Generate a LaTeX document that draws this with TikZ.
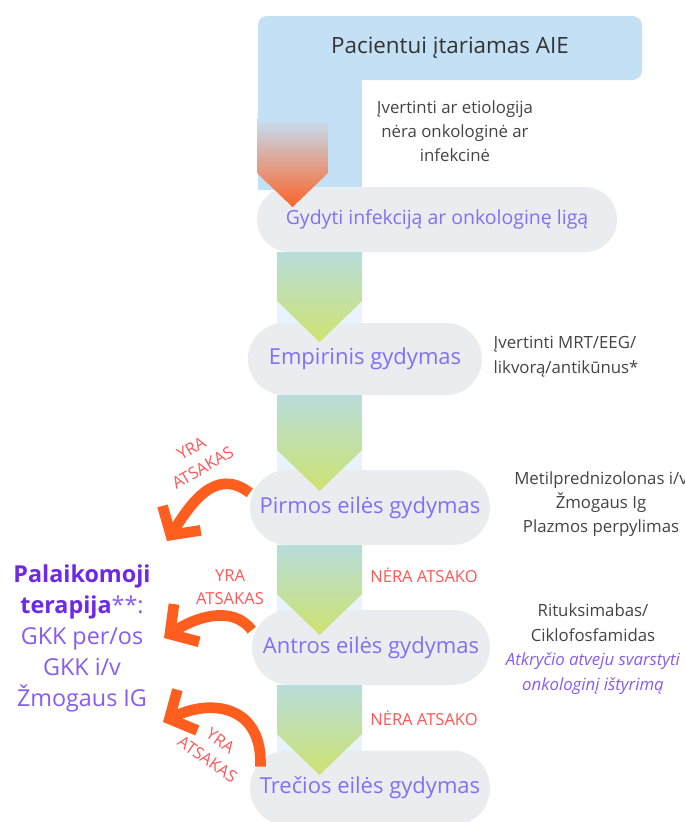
\documentclass[tikz,border=0pt]{standalone}
\usepackage{fontspec}
\setmainfont{Open Sans}
\usetikzlibrary{shapes.misc,arrows.meta}

\definecolor{titleblue}{RGB}{196,224,245}
\definecolor{stripblue}{RGB}{232,243,251}
\definecolor{pillgray}{RGB}{233,237,240}
\definecolor{pilltext}{RGB}{128,112,246}
\definecolor{notegray}{RGB}{68,68,68}
\definecolor{darkgray}{RGB}{51,51,51}
\definecolor{nerared}{RGB}{255,87,87}
\definecolor{yraorange}{RGB}{255,94,31}
\definecolor{arroworange}{RGB}{252,98,38}
\definecolor{greentop}{RGB}{184,221,218}
\definecolor{greenbot}{RGB}{206,227,112}
\definecolor{keepbold}{RGB}{110,40,232}
\definecolor{keeptext}{RGB}{135,92,245}

\begin{document}
\begin{tikzpicture}[
    x=0.75pt, y=-0.75pt,
    titlebox/.style={fill=titleblue, rounded corners=7pt, text=darkgray,
                     minimum width=288pt, minimum height=48pt,
                     font=\fontsize{16.8}{20}\selectfont},
    pill/.style={rounded rectangle, fill=pillgray, text=pilltext, inner sep=0pt,
                 font=\fontsize{16.5}{20}\selectfont},
    note/.style={text=notegray, align=center,
                 font=\fontsize{12.6}{18.2}\selectfont},
    nera/.style={text=nerared, font=\fontsize{12.4}{15}\selectfont},
    yralbl/.style={text=nerared, align=center,
                   font=\fontsize{12.4}{17}\selectfont},
    yra/.style={yraorange, line width=8pt,
                -{Straight Barb[length=15pt, width=34pt]}}
]

% ---------- page ----------
\fill[white] (0,0) rectangle (685,822);
\clip (0,0) rectangle (685,822);

% ---------- top ----------
\fill[titleblue] (258,60) rectangle (362,190);
\node[titlebox] (aie) at (450,48) {Pacientui įtariamas AIE};
\node[note] (etiol) at (455,131) {Įvertinti ar etiologija\\nėra onkologinė ar\\infekcinė};

% ---------- strips behind arrows ----------
\foreach \ytop/\ytip in {252/342, 395/491, 545/635, 685/775}
  \fill[stripblue] (277,\ytop) rectangle (362,\ytip);

% ---------- pills ----------
\node[pill, minimum width=270pt, minimum height=48.75pt,
      font=\fontsize{14.6}{17}\selectfont] (infek) at (437,219.5) {Gydyti infekciją ar onkologinę ligą};
\node[pill, minimum width=175.5pt, minimum height=54pt] (empir) at (365,359) {Empirinis gydymas};
\node[pill, minimum width=180pt, minimum height=56.25pt] (pirm) at (370,507.5) {Pirmos eilės gydymas};
\node[pill, minimum width=178.5pt, minimum height=56.25pt] (antr) at (371,647.5) {Antros eilės gydymas};
\node[pill, minimum width=180pt, minimum height=56.25pt] (trec) at (370,788) {Trečios eilės gydymas};

% ---------- down arrows ----------
\begin{scope}
  \clip (257,118) -- (328,118) -- (328,173) -- (292.5,207) -- (257,173) -- cycle;
  \foreach \i in {0,...,49}
    {\pgfmathtruncatemacro\pct{2*\i}
     \fill[arroworange!\pct!titleblue] (257,{118+\i*1.8}) rectangle (328,{118+(\i+1)*1.8+0.6});}
\end{scope}
\foreach \ytop/\yshoulder/\ytip in {252/301/342, 395/450/491, 545/594/635, 685/734/775}
  \shade[top color=greentop, bottom color=greenbot]
    (277,\ytop) -- (362,\ytop) -- (362,\yshoulder) -- (319.5,\ytip) -- (277,\yshoulder) -- cycle;

% ---------- side notes ----------
\node[note, align=left, anchor=west, font=\fontsize{12.6}{18.75}\selectfont]
  (mrt) at (489,357) {Įvertinti MRT/EEG/\\likvorą/antikūnus*};
\node[note, font=\fontsize{12.6}{18}\selectfont] (metil) at (601,504)
  {Metilprednizolonas i/v\\Žmogaus Ig\\Plazmos perpylimas};
\node[note, font=\fontsize{12.6}{18.5}\selectfont] (ritux) at (593,649)
  {Rituksimabas/\\Ciklofosfamidas\\{\itshape\color{keeptext}Atkryčio atveju svarstyti}\\{\itshape\color{keeptext}onkologinį ištyrimą}};
\node[nera] (nera1) at (424,575) {NĖRA ATSAKO};
\node[nera] (nera2) at (424,718) {NĖRA ATSAKO};

% ---------- maintenance ----------
\node[align=center, text=keeptext, font=\fontsize{17.5}{23.25}\selectfont] (keep) at (82,638)
  {{\bfseries\color{keepbold}Palaikomoji}\\{\bfseries\color{keepbold}terapija}**:\\GKK per/os\\GKK i/v\\Žmogaus IG};

% ---------- response arrows ----------
\coordinate (tip1) at (167,541);
\coordinate (tip2) at (164,638);
\coordinate (tip3) at (163,722);
\draw[yra] ([yshift=11pt]pirm.west) .. controls (215,466) and (190,505) .. (tip1);
\draw[yra] ([yshift=13pt]antr.west) .. controls (232,604) and (194,618) .. (tip2);
\draw[yra] ([xshift=8pt,yshift=16pt]trec.west) .. controls (263,706) and (212,698) .. (tip3);

\node[yralbl, rotate=30] (yra1) at (197,458) {YRA\\ATSAKAS};
\node[yralbl] (yra2) at (230,587) {YRA\\ATSAKAS};
\node[yralbl, rotate=-35] (yra3) at (214,750) {YRA\\ATSAKAS};

\end{tikzpicture}
\end{document}
